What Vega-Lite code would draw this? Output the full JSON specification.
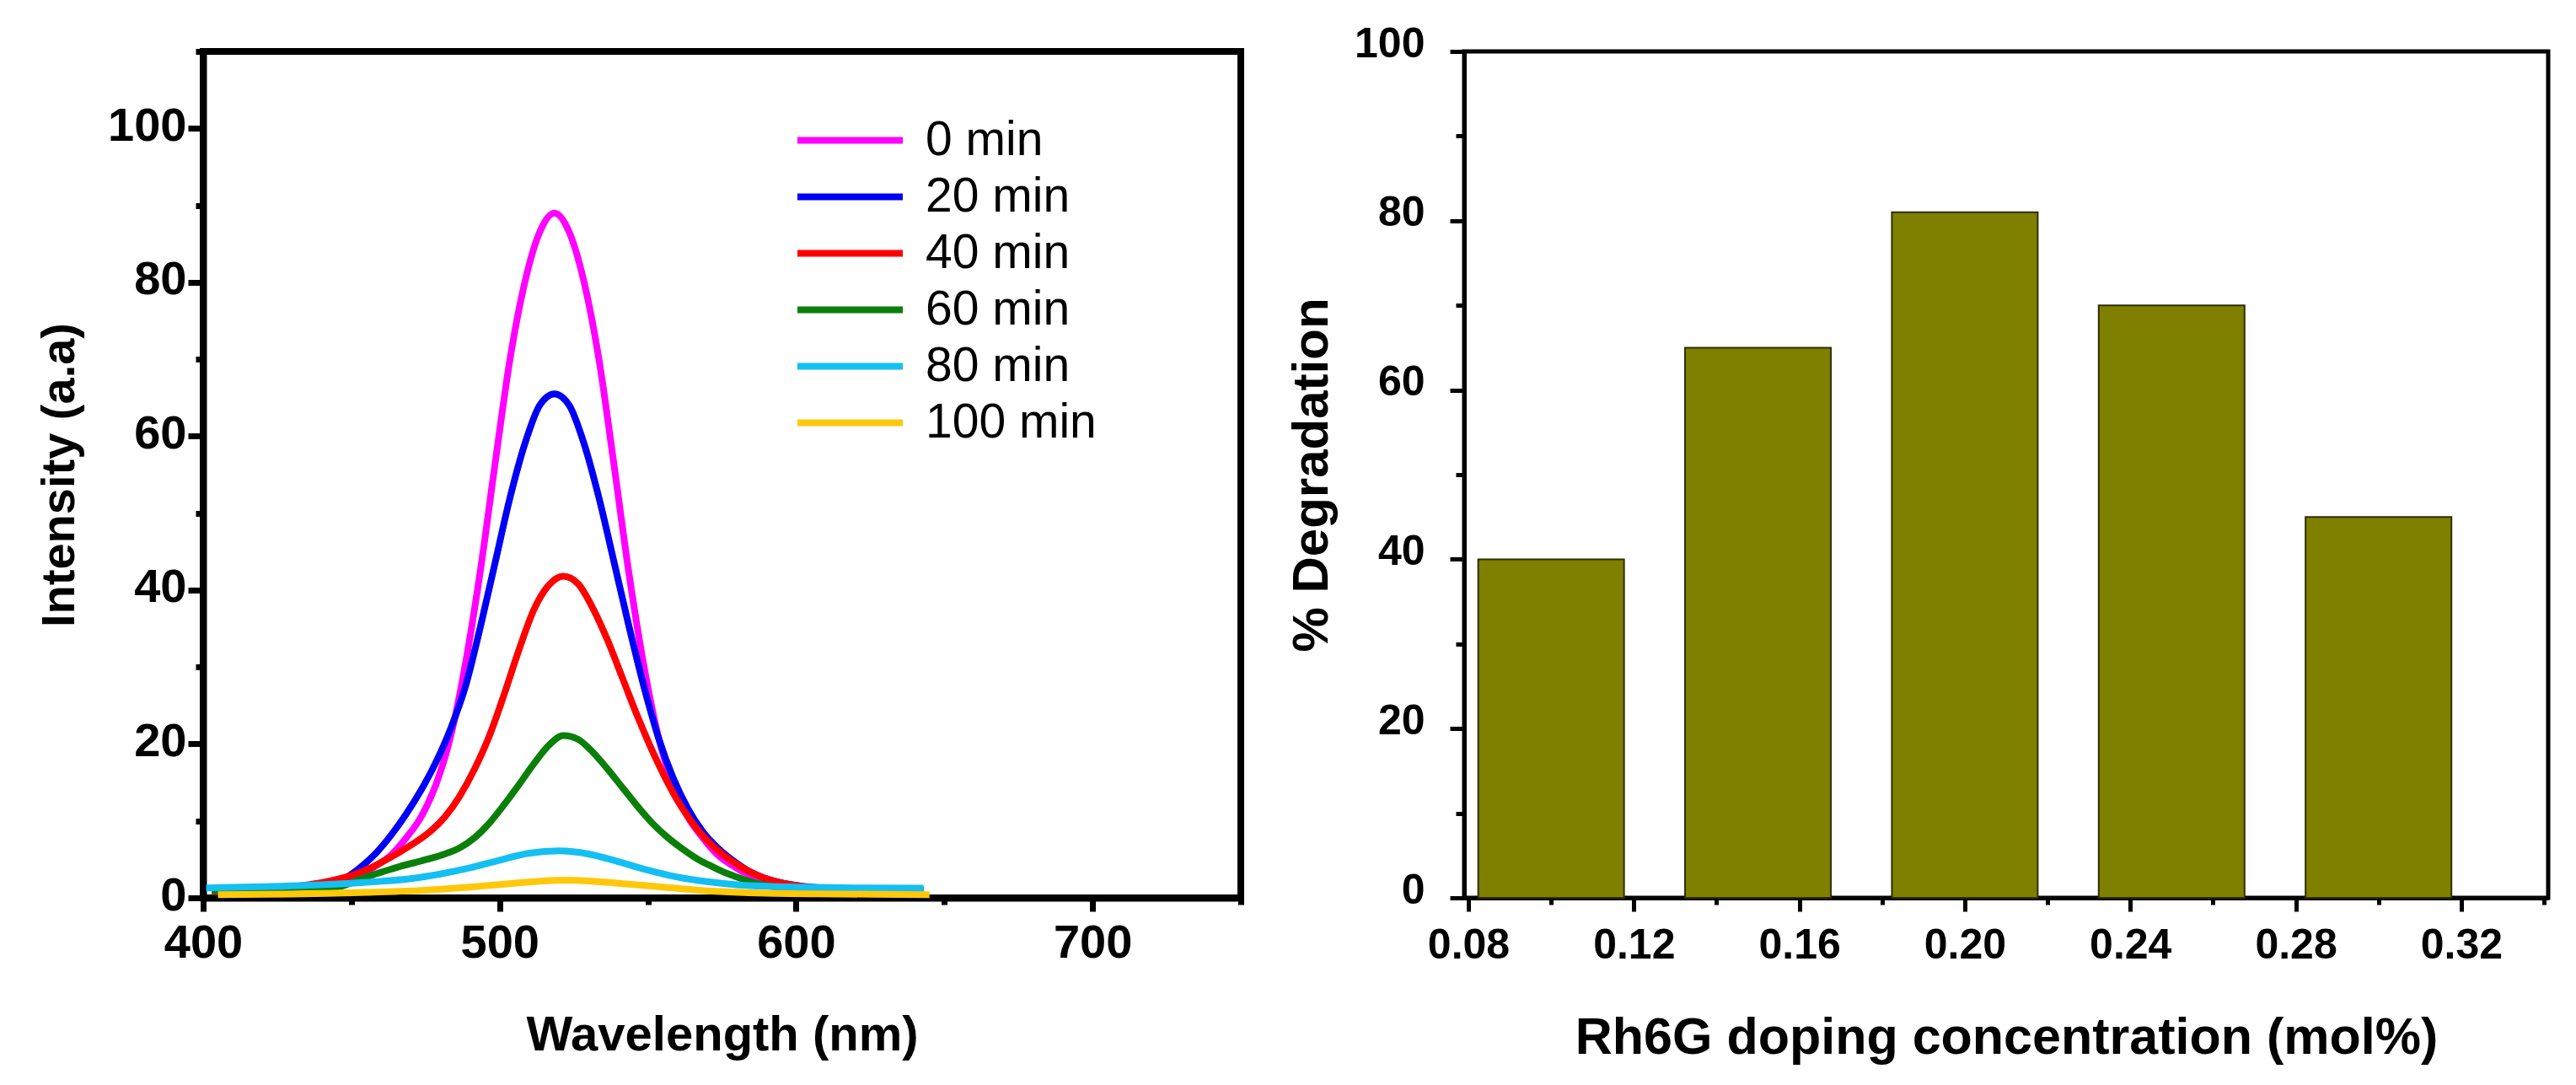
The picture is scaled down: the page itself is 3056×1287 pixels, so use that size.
{
  "$schema": "https://vega.github.io/schema/vega-lite/v6.json",
  "background": "white",
  "autosize": {"type": "pad"},
  "padding": {"left": 38, "top": 24, "right": 0, "bottom": 0},
  "spacing": 265,
  "bounds": "flush",
  "config": {
    "font": "Liberation Sans",
    "axis": {
      "grid": false,
      "domainColor": "black",
      "tickColor": "black",
      "labelColor": "black",
      "titleColor": "black",
      "labelFlush": false,
      "labelOverlap": false,
      "labelFontWeight": "bold",
      "titleFontWeight": "bold"
    }
  },
  "datasets": {
    "spectra": [
      {"t": 0, "wl": 403, "I": 0.9}, {"t": 0, "wl": 418.5, "I": 1.0}, {"t": 0, "wl": 428.5, "I": 1.2},
      {"t": 0, "wl": 438.5, "I": 1.6}, {"t": 0, "wl": 448.5, "I": 2.4}, {"t": 0, "wl": 453.5, "I": 3.1},
      {"t": 0, "wl": 458.5, "I": 4.2}, {"t": 0, "wl": 463.5, "I": 5.6}, {"t": 0, "wl": 468.5, "I": 7.8},
      {"t": 0, "wl": 473.5, "I": 10.5}, {"t": 0, "wl": 478.5, "I": 14.7}, {"t": 0, "wl": 483.5, "I": 21},
      {"t": 0, "wl": 488.5, "I": 30.5}, {"t": 0, "wl": 493.5, "I": 42.5}, {"t": 0, "wl": 498.5, "I": 56.5},
      {"t": 0, "wl": 503.5, "I": 70}, {"t": 0, "wl": 508.5, "I": 80}, {"t": 0, "wl": 513.5, "I": 86.5},
      {"t": 0, "wl": 518.5, "I": 89}, {"t": 0, "wl": 523.5, "I": 86.5}, {"t": 0, "wl": 528.5, "I": 80},
      {"t": 0, "wl": 533.5, "I": 70}, {"t": 0, "wl": 538.5, "I": 56.5}, {"t": 0, "wl": 543.5, "I": 42.5},
      {"t": 0, "wl": 548.5, "I": 30.5}, {"t": 0, "wl": 553.5, "I": 21}, {"t": 0, "wl": 558.5, "I": 14.7},
      {"t": 0, "wl": 563.5, "I": 10.5}, {"t": 0, "wl": 568.5, "I": 7.8}, {"t": 0, "wl": 573.5, "I": 5.6},
      {"t": 0, "wl": 578.5, "I": 4.2}, {"t": 0, "wl": 583.5, "I": 3.1}, {"t": 0, "wl": 588.5, "I": 2.4},
      {"t": 0, "wl": 598.5, "I": 1.6}, {"t": 0, "wl": 608.5, "I": 1.2}, {"t": 0, "wl": 618.5, "I": 1.0},
      {"t": 0, "wl": 643, "I": 0.8},

      {"t": 20, "wl": 403, "I": 1.0}, {"t": 20, "wl": 418.5, "I": 1.2}, {"t": 20, "wl": 433.5, "I": 1.4},
      {"t": 20, "wl": 443.5, "I": 1.9}, {"t": 20, "wl": 448.5, "I": 2.7}, {"t": 20, "wl": 453.5, "I": 4.1},
      {"t": 20, "wl": 458.5, "I": 5.9}, {"t": 20, "wl": 463.5, "I": 8.2}, {"t": 20, "wl": 468.5, "I": 10.9},
      {"t": 20, "wl": 473.5, "I": 14}, {"t": 20, "wl": 478.5, "I": 17.6}, {"t": 20, "wl": 483.5, "I": 22},
      {"t": 20, "wl": 488.5, "I": 27.5}, {"t": 20, "wl": 493.5, "I": 35.2}, {"t": 20, "wl": 498.5, "I": 43.6},
      {"t": 20, "wl": 503.5, "I": 52}, {"t": 20, "wl": 508.5, "I": 59}, {"t": 20, "wl": 513.5, "I": 64},
      {"t": 20, "wl": 518.5, "I": 65.5}, {"t": 20, "wl": 523.5, "I": 64}, {"t": 20, "wl": 528.5, "I": 59},
      {"t": 20, "wl": 533.5, "I": 52}, {"t": 20, "wl": 538.5, "I": 43.8}, {"t": 20, "wl": 543.5, "I": 35.5},
      {"t": 20, "wl": 548.5, "I": 27.7}, {"t": 20, "wl": 553.5, "I": 20.9}, {"t": 20, "wl": 558.5, "I": 15.6},
      {"t": 20, "wl": 563.5, "I": 11.6}, {"t": 20, "wl": 568.5, "I": 8.6}, {"t": 20, "wl": 573.5, "I": 6.5},
      {"t": 20, "wl": 578.5, "I": 4.9}, {"t": 20, "wl": 583.5, "I": 3.6}, {"t": 20, "wl": 588.5, "I": 2.7},
      {"t": 20, "wl": 598.5, "I": 1.7}, {"t": 20, "wl": 608.5, "I": 1.3}, {"t": 20, "wl": 618.5, "I": 1.1},
      {"t": 20, "wl": 643, "I": 1.0},

      {"t": 40, "wl": 403, "I": 0.8}, {"t": 40, "wl": 421.5, "I": 1.1}, {"t": 40, "wl": 431.5, "I": 1.5},
      {"t": 40, "wl": 441.5, "I": 2.1}, {"t": 40, "wl": 451.5, "I": 3.1}, {"t": 40, "wl": 456.5, "I": 3.9},
      {"t": 40, "wl": 461.5, "I": 4.9}, {"t": 40, "wl": 466.5, "I": 6}, {"t": 40, "wl": 471.5, "I": 7.2},
      {"t": 40, "wl": 476.5, "I": 8.6}, {"t": 40, "wl": 481.5, "I": 10.5}, {"t": 40, "wl": 486.5, "I": 13.2},
      {"t": 40, "wl": 491.5, "I": 16.7}, {"t": 40, "wl": 496.5, "I": 21}, {"t": 40, "wl": 501.5, "I": 26.4},
      {"t": 40, "wl": 506.5, "I": 32.2}, {"t": 40, "wl": 511.5, "I": 37.4}, {"t": 40, "wl": 516.5, "I": 40.6},
      {"t": 40, "wl": 521.5, "I": 41.8}, {"t": 40, "wl": 526.5, "I": 40.8}, {"t": 40, "wl": 531.5, "I": 37.6},
      {"t": 40, "wl": 536.5, "I": 33.4}, {"t": 40, "wl": 541.5, "I": 28.5}, {"t": 40, "wl": 546.5, "I": 23.6},
      {"t": 40, "wl": 551.5, "I": 19.1}, {"t": 40, "wl": 556.5, "I": 15.1}, {"t": 40, "wl": 561.5, "I": 11.7},
      {"t": 40, "wl": 566.5, "I": 9}, {"t": 40, "wl": 571.5, "I": 6.9}, {"t": 40, "wl": 576.5, "I": 5.3},
      {"t": 40, "wl": 581.5, "I": 4}, {"t": 40, "wl": 586.5, "I": 3}, {"t": 40, "wl": 591.5, "I": 2.3},
      {"t": 40, "wl": 601.5, "I": 1.5}, {"t": 40, "wl": 611.5, "I": 1.1}, {"t": 40, "wl": 621.5, "I": 0.9},
      {"t": 40, "wl": 643, "I": 0.7},

      {"t": 60, "wl": 403, "I": 0.9}, {"t": 60, "wl": 421.5, "I": 1.0}, {"t": 60, "wl": 436.5, "I": 1.1},
      {"t": 60, "wl": 446.5, "I": 1.5}, {"t": 60, "wl": 451.5, "I": 2.2}, {"t": 60, "wl": 456.5, "I": 2.9},
      {"t": 60, "wl": 461.5, "I": 3.5}, {"t": 60, "wl": 466.5, "I": 4.1}, {"t": 60, "wl": 471.5, "I": 4.6},
      {"t": 60, "wl": 476.5, "I": 5.1}, {"t": 60, "wl": 481.5, "I": 5.7}, {"t": 60, "wl": 486.5, "I": 6.5},
      {"t": 60, "wl": 491.5, "I": 7.8}, {"t": 60, "wl": 496.5, "I": 9.7}, {"t": 60, "wl": 501.5, "I": 12.1},
      {"t": 60, "wl": 506.5, "I": 14.7}, {"t": 60, "wl": 511.5, "I": 17.4}, {"t": 60, "wl": 516.5, "I": 19.8},
      {"t": 60, "wl": 521.5, "I": 21.1}, {"t": 60, "wl": 526.5, "I": 20.6}, {"t": 60, "wl": 531.5, "I": 18.9},
      {"t": 60, "wl": 536.5, "I": 16.7}, {"t": 60, "wl": 541.5, "I": 14.3}, {"t": 60, "wl": 546.5, "I": 11.9},
      {"t": 60, "wl": 551.5, "I": 9.7}, {"t": 60, "wl": 556.5, "I": 7.9}, {"t": 60, "wl": 561.5, "I": 6.4},
      {"t": 60, "wl": 566.5, "I": 5.1}, {"t": 60, "wl": 571.5, "I": 4.1}, {"t": 60, "wl": 576.5, "I": 3.2},
      {"t": 60, "wl": 581.5, "I": 2.5}, {"t": 60, "wl": 586.5, "I": 1.9}, {"t": 60, "wl": 591.5, "I": 1.5},
      {"t": 60, "wl": 601.5, "I": 1.2}, {"t": 60, "wl": 611.5, "I": 1.0}, {"t": 60, "wl": 621.5, "I": 0.9},
      {"t": 60, "wl": 643, "I": 0.8},

      {"t": 80, "wl": 401, "I": 1.3}, {"t": 80, "wl": 420, "I": 1.45}, {"t": 80, "wl": 440, "I": 1.7},
      {"t": 80, "wl": 450, "I": 1.9}, {"t": 80, "wl": 460, "I": 2.15}, {"t": 80, "wl": 470, "I": 2.5},
      {"t": 80, "wl": 480, "I": 3.1}, {"t": 80, "wl": 490, "I": 3.9}, {"t": 80, "wl": 500, "I": 4.9},
      {"t": 80, "wl": 510, "I": 5.8}, {"t": 80, "wl": 520, "I": 6.1}, {"t": 80, "wl": 530, "I": 5.7},
      {"t": 80, "wl": 540, "I": 4.7}, {"t": 80, "wl": 550, "I": 3.6}, {"t": 80, "wl": 560, "I": 2.7},
      {"t": 80, "wl": 570, "I": 2.1}, {"t": 80, "wl": 580, "I": 1.7}, {"t": 80, "wl": 590, "I": 1.5},
      {"t": 80, "wl": 600, "I": 1.4}, {"t": 80, "wl": 620, "I": 1.3}, {"t": 80, "wl": 643, "I": 1.25},

      {"t": 100, "wl": 405, "I": 0.4}, {"t": 100, "wl": 430, "I": 0.5}, {"t": 100, "wl": 455, "I": 0.7},
      {"t": 100, "wl": 475, "I": 1.0}, {"t": 100, "wl": 490, "I": 1.4}, {"t": 100, "wl": 505, "I": 1.9},
      {"t": 100, "wl": 515, "I": 2.2}, {"t": 100, "wl": 522, "I": 2.3}, {"t": 100, "wl": 530, "I": 2.2},
      {"t": 100, "wl": 540, "I": 1.9}, {"t": 100, "wl": 555, "I": 1.4}, {"t": 100, "wl": 570, "I": 0.9},
      {"t": 100, "wl": 590, "I": 0.6}, {"t": 100, "wl": 615, "I": 0.5}, {"t": 100, "wl": 645, "I": 0.4}
    ],
    "bars": [
      {"conc": 0.10, "deg": 40},
      {"conc": 0.15, "deg": 65},
      {"conc": 0.20, "deg": 81},
      {"conc": 0.25, "deg": 70},
      {"conc": 0.30, "deg": 45}
    ]
  },
  "hconcat": [
    {
      "width": 1231,
      "height": 1004,
      "view": {"stroke": "black", "strokeWidth": 8},
      "data": {"name": "spectra"},
      "mark": {"type": "line", "strokeWidth": 8, "interpolate": "monotone"},
      "encoding": {
        "x": {
          "field": "wl",
          "type": "quantitative",
          "scale": {"domain": [400, 750], "nice": false, "zero": false},
          "axis": {
            "title": "Wavelength (nm)",
            "values": [400, 450, 500, 550, 600, 650, 700, 750],
            "labelExpr": "datum.value % 100 === 0 ? datum.label : ''",
            "tickSize": {"condition": {"test": "datum.value % 100 === 0", "value": 16}, "value": 8},
            "tickWidth": 7,
            "domainWidth": 8,
            "labelFontSize": 56,
            "labelPadding": 10,
            "titleFontSize": 58,
            "titlePadding": 53
          }
        },
        "y": {
          "field": "I",
          "type": "quantitative",
          "scale": {"domain": [0, 110], "nice": false},
          "axis": {
            "title": "Intensity (a.a)",
            "values": [0, 10, 20, 30, 40, 50, 60, 70, 80, 90, 100, 110],
            "labelExpr": "datum.value % 20 === 0 ? datum.label : ''",
            "tickSize": {"condition": {"test": "datum.value % 20 === 0", "value": 18}, "value": 9},
            "tickWidth": 7,
            "domainWidth": 8,
            "labelFontSize": 56,
            "labelPadding": 2,
            "labelOffset": -3,
            "titleFontSize": 56,
            "titlePadding": 28
          }
        },
        "color": {
          "field": "t",
          "type": "nominal",
          "scale": {
            "domain": [0, 20, 40, 60, 80, 100],
            "range": ["#ff00ff", "#0000f5", "#ff0000", "#0a800a", "#14bff2", "#ffc80a"]
          },
          "legend": {
            "title": null,
            "orient": "none",
            "legendX": 701,
            "legendY": 70,
            "padding": 0,
            "symbolType": "M-2,0H2",
            "symbolSize": 3906,
            "symbolOffset": 31,
            "symbolStrokeWidth": 8,
            "labelFontSize": 57,
            "labelColor": "black",
            "labelOffset": 54,
            "labelLimit": 0,
            "rowPadding": 3,
            "labelExpr": "(datum.value == 0 ? '\u00a0' : '') + datum.label + ' min'"
          }
        }
      }
    },
    {
      "width": 1286,
      "height": 1004,
      "view": {"stroke": "black", "strokeWidth": 5},
      "data": {"name": "bars"},
      "mark": {"type": "bar", "size": 173, "fill": "#808000", "stroke": "#2e2e00", "strokeWidth": 2},
      "encoding": {
        "x": {
          "field": "conc",
          "type": "quantitative",
          "scale": {"domain": [0.08, 0.34], "nice": false, "zero": false},
          "axis": {
            "title": "Rh6G doping concentration (mol%)",
            "values": [0.08, 0.10, 0.12, 0.14, 0.16, 0.18, 0.20, 0.22, 0.24, 0.26, 0.28, 0.30, 0.32, 0.34],
            "format": ".2f",
            "labelExpr": "round(datum.value * 100) % 4 === 0 ? datum.label : ''",
            "tickSize": {"condition": {"test": "round(datum.value * 100) % 4 === 0", "value": 16}, "value": 8},
            "tickWidth": 5,
            "domainWidth": 5,
            "labelFontSize": 50,
            "labelPadding": 15,
            "titleFontSize": 61,
            "titlePadding": 55
          }
        },
        "y": {
          "field": "deg",
          "type": "quantitative",
          "scale": {"domain": [0, 100], "nice": false},
          "axis": {
            "title": "% Degradation",
            "values": [0, 10, 20, 30, 40, 50, 60, 70, 80, 90, 100],
            "labelExpr": "datum.value % 20 === 0 ? datum.label : ''",
            "tickSize": {"condition": {"test": "datum.value % 20 === 0", "value": 17}, "value": 10},
            "tickWidth": 5,
            "domainWidth": 5,
            "labelFontSize": 50,
            "labelPadding": 30,
            "labelOffset": -9,
            "titleFontSize": 60,
            "titlePadding": 19
          }
        }
      }
    }
  ]
}
